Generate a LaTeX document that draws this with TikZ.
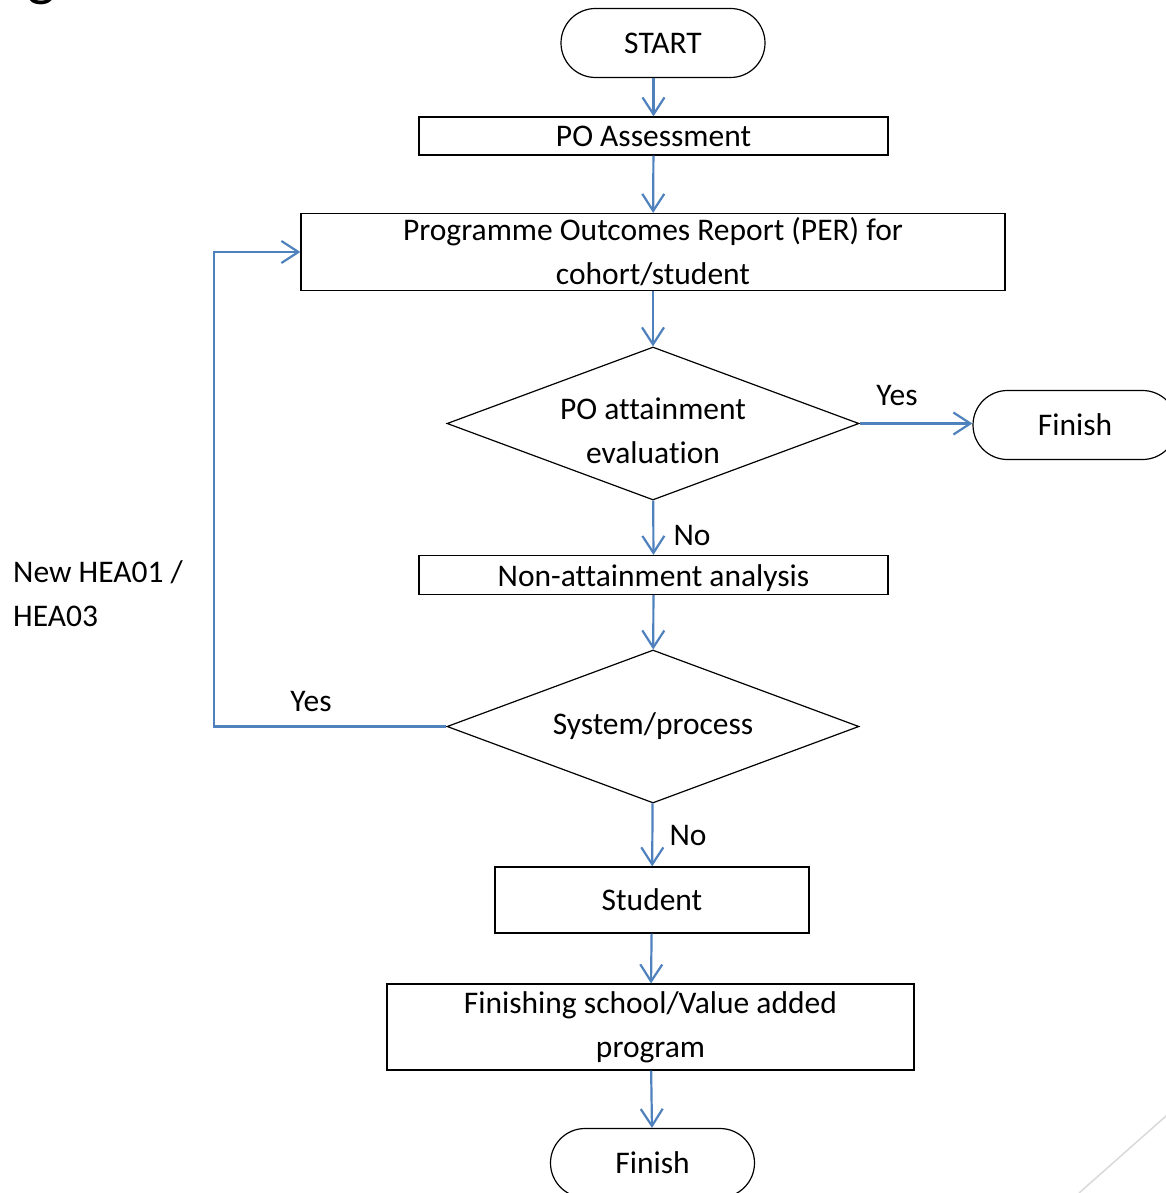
\documentclass[tikz,border=0pt]{standalone}
\usepackage{fontspec}
\setmainfont{Carlito}[Ligatures=CommonOff]
\usetikzlibrary{arrows.meta,shapes.geometric}

\definecolor{flowblue}{HTML}{4F81BD}

\begin{document}
\begin{tikzpicture}[x=1pt,y=-1pt,
    every node/.style={font=\fontsize{31.5}{44}\selectfont},
    box/.style={draw,line width=1.2pt,minimum width=#1,inner sep=0pt,align=center},
    term/.style={draw,line width=1.2pt,rounded corners=34.5pt,minimum width=204pt,minimum height=69pt,inner sep=0pt},
    decision/.style={draw,line width=1.2pt,shape=diamond,minimum width=412pt,minimum height=153pt,shape aspect=2.7,inner sep=0pt,align=center},
    flow/.style={draw=flowblue,line width=2.2pt,-{Straight Barb[length=17pt,width=22pt,line width=2.2pt]}},
    lbl/.style={inner sep=0pt}]
    \useasboundingbox (0,0) rectangle (1166,1193);

    % corner leftovers of the slide
    \node[lbl,anchor=base,font=\fontsize{60}{60}\selectfont] (g) at (42,-5) {g};
    \draw[color=black!15,line width=1.5pt] (1079,1193) -- (1166,1116);

    % boxes
    \node[term] (start) at (663,43) {START};
    \node[box=469pt,minimum height=38pt] (po) at (653.5,136) {PO Assessment};
    \node[box=704pt,minimum height=77pt] (per) at (653,252)
        {Programme Outcomes Report (PER) for\\cohort/student};
    \node[decision] (eval) at (653,423.5) {\rule{0pt}{36pt}PO attainment\\evaluation};
    \node[term] (fin1) at (1075,425) {Finish};
    \node[box=469pt,minimum height=39pt] (non) at (653.5,575) {\rule{0pt}{28pt}Non-attainment analysis};
    \node[decision] (sys) at (653,726.5) {System/process};
    \node[box=314pt,minimum height=66pt] (stud) at (652,900) {Student};
    \node[box=527pt,minimum height=86pt] (fsch) at (650.5,1027)
        {Finishing school/Value added\\program};
    \node[term] (fin2) at (652.5,1163) {Finish};
    \coordinate (loop) at (214,726.5);

    % connectors
    \draw[flow] (start.south -| po.north) -- (po.north);
    \draw[flow] (po) -- (per);
    \draw[flow] (per) -- (eval);
    \draw[flow] (eval.east) -- (eval.east -| fin1.west);
    \draw[flow] (eval) -- (non);
    \draw[flow] (non) -- (sys);
    \draw[flow] (sys.west) -- (loop) |- (per.west);
    \draw[flow] (sys) -- (stud);
    \draw[flow] (stud) -- (fsch);
    \draw[flow] (fsch) -- (fin2);

    % labels
    \node[lbl] (yes1) at (897,396) {Yes};
    \node[lbl] (no1) at (692,535) {No};
    \node[lbl] (yes2) at (311,702) {Yes};
    \node[lbl] (no2) at (688,835) {No};
    \node[lbl,anchor=west,align=left] (hea) at (13,594) {New HEA01 /\\HEA03};
\end{tikzpicture}
\end{document}
